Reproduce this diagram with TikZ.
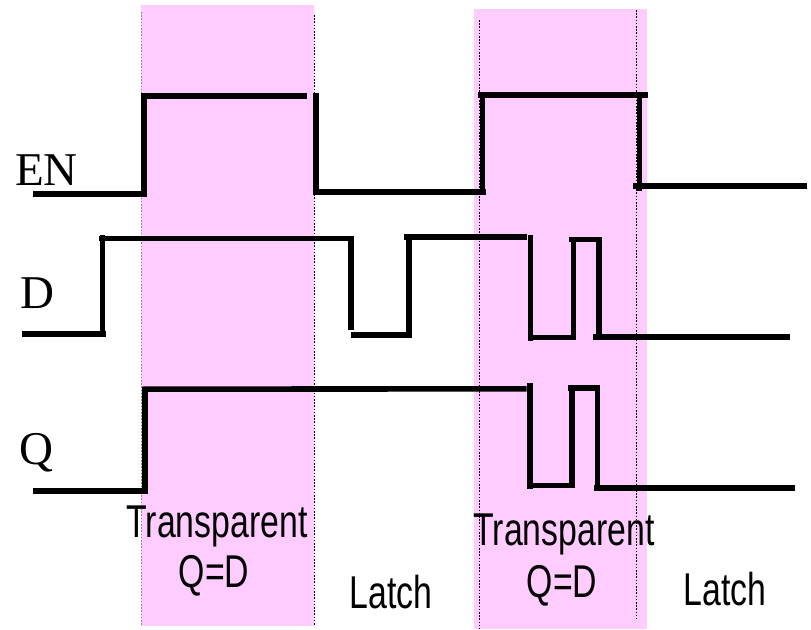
\documentclass[tikz,border=0pt]{standalone}
\usepackage{fontspec}
\setmainfont{Liberation Serif}
\newfontfamily\narrowsans[FakeStretch=0.735]{Liberation Sans}
\definecolor{pinkband}{RGB}{255,204,255}
\begin{document}
\begin{tikzpicture}[x=1pt,y=-1pt,
  sig/.style={line width=5.6pt, line join=miter, line cap=butt, black},
  edge/.style={line width=0.8pt, dash pattern=on 1.6pt off 1.6pt, black},
  signame/.style={anchor=base west, inner sep=0pt, font=\fontsize{47}{50}\selectfont},
  phase/.style={anchor=base, inner sep=0pt, font=\narrowsans\fontsize{46}{50}\selectfont}]
\useasboundingbox (0,0) rectangle (811,629);
% pink bands
\fill[pinkband] (141,5) rectangle (314,626);
\fill[pinkband] (474,9) rectangle (647,629);
% dotted edges
\draw[edge, black!45] (141.5,12) -- (141.5,626);
\draw[edge] (314.3,15) -- (314.3,626);
\draw[edge] (479.3,20) -- (479.3,629);
\draw[edge] (636.7,10) -- (636.7,619);
% EN
\draw[sig] (33,194) -- (147,194);
\draw[sig] (144,197) -- (144,93.4) ;
\draw[sig] (141,96.2) -- (307.3,96.2);
\draw[sig] (315.7,93) -- (315.7,194.5);
\draw[sig] (313,191.7) -- (485.7,191.7);
\draw[sig] (482.5,194.5) -- (482.5,92.2);
\draw[sig] (478,95) -- (648.3,95);
\draw[sig] (639.3,92.2) -- (639.3,191);
\draw[sig] (633,185.7) -- (807.3,185.7);
% D
\draw[sig] (22,334) -- (106,334);
\draw[sig] (102.3,336.8) -- (102.3,235);
\draw[sig] (99,238.5) -- (354,238.5);
\draw[sig] (351,236) -- (351,330);
\draw[sig] (351,334.8) -- (410.7,334.8);
\draw[sig] (408.8,337.5) -- (408.8,235);
\draw[sig] (404,236.7) -- (527.3,236.7);
\draw[sig] (530.3,235) -- (530.3,340.7);
\draw[sig] (530,337.5) -- (570.7,337.5);
\draw[sig] (573.3,340) -- (573.3,242);
\draw[sig] (569.3,239.3) -- (601.7,239.3);
\draw[sig] (598.8,239) -- (598.8,340);
\draw[sig] (593.3,337) -- (790,337);
% Q
\draw[sig] (32.7,491.2) -- (147.3,491.2);
\draw[sig] (145.2,494) -- (145.2,386.5);
\draw[sig] (142.7,389.2) -- (526.7,388.8);
\draw[sig] (529.7,383.3) -- (529.7,489);
\draw[sig] (529,485.5) -- (570,485.5);
\draw[sig] (572.2,488.3) -- (572.2,385);
\draw[sig] (568.3,387.8) -- (600,387.8);
\draw[sig] (597.5,390) -- (597.5,490.7);
\draw[sig] (594.3,487.8) -- (795,487.8);
% signal names
\node[signame] (en) at (15,185) {EN};
\node[signame] (d) at (20,308.3) {D};
\node[signame] (q) at (19,464.5) {Q};
% phase labels
\node[phase] (tr1) at (217,537) {Transparent};
\node[phase] (qd1) at (214,587) {Q=D};
\node[phase] (la1) at (391,608) {Latch};
\node[phase] (tr2) at (564,545) {Transparent};
\node[phase] (qd2) at (562,597) {Q=D};
\node[phase] (la2) at (725,605) {Latch};
\end{tikzpicture}
\end{document}
